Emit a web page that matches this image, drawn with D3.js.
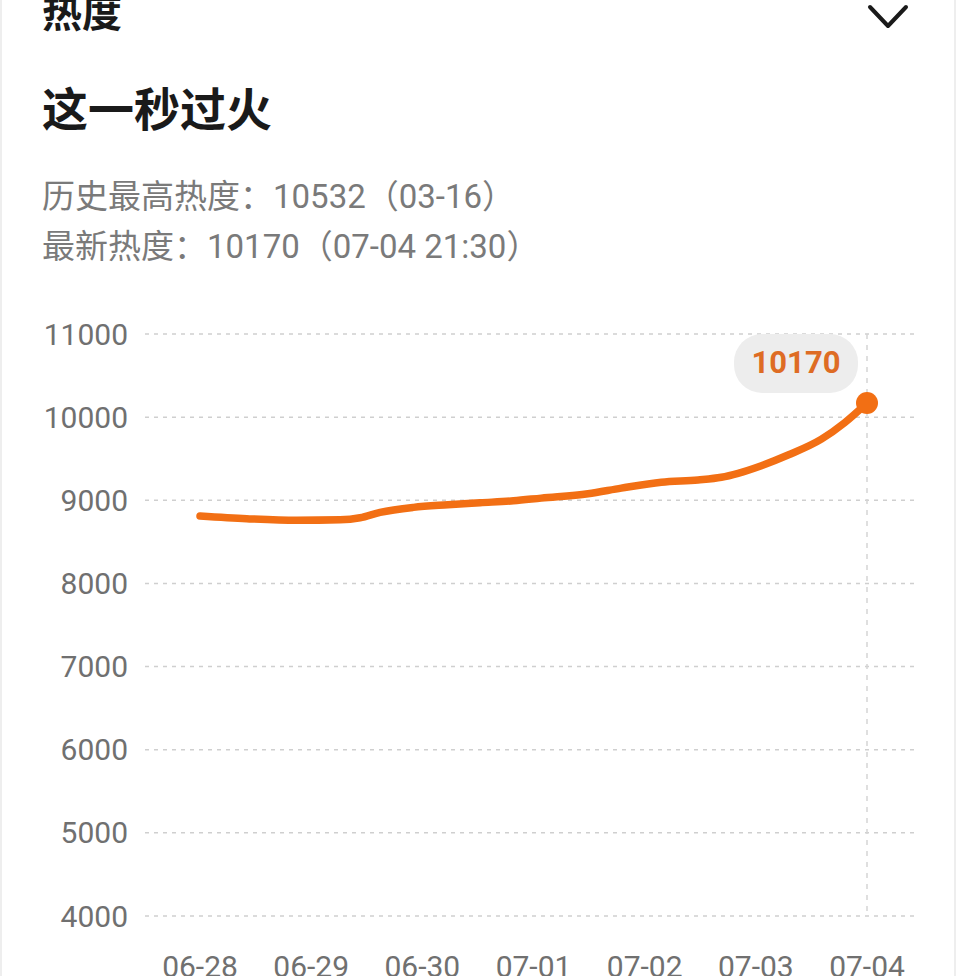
<!DOCTYPE html>
<html>
<head>
<meta charset="utf-8">
<script src="https://cdn.jsdelivr.net/npm/d3@7"></script>
<style>
  body { margin: 0; background: #fff; }
  svg { display: block; }
</style>
</head>
<body>
<script>
// heat curve, t = days since 06-28
const dayLabels = ["06-28", "06-29", "06-30", "07-01", "07-02", "07-03", "07-04"];
const yTicks = [4000, 5000, 6000, 7000, 8000, 9000, 10000, 11000];
const t = [0, 0.42, 0.87, 1.26, 1.44, 1.62, 1.92, 2.23, 2.52, 2.82, 3.07, 3.49, 3.79, 4.15, 4.48, 4.69, 4.84, 5.05, 5.29, 5.59, 5.80, 6.0];
const heat = [8811, 8779, 8759, 8765, 8790, 8855, 8915, 8946, 8970, 8994, 9026, 9078, 9146, 9217, 9245, 9277, 9325, 9416, 9544, 9735, 9934, 10170];

const width = 956, height = 976;
const orange = "#f26f14";
const numFont = "Roboto, 'Noto Sans CJK SC', sans-serif";
const cjkFont = "'Noto Sans CJK SC', sans-serif";

const svg = d3.select("body").append("svg")
    .attr("width", width)
    .attr("height", height);

svg.append("rect").attr("width", width).attr("height", height).attr("fill", "#fff");
// faint card edges
svg.append("line").attr("x1", 1).attr("x2", 1).attr("y1", 0).attr("y2", height)
    .attr("stroke", "#eee").attr("stroke-width", 2);
svg.append("line").attr("x1", width - 1).attr("x2", width - 1).attr("y1", 0).attr("y2", height)
    .attr("stroke", "#eee").attr("stroke-width", 2);

// header
svg.append("text").attr("x", 42).attr("y", 27)
    .attr("font-family", cjkFont).attr("font-size", 40).attr("font-weight", 700)
    .attr("fill", "#1a1a1a").text("热度");
svg.append("path").attr("d", "M870,7 L888,26 L906,7")
    .attr("fill", "none").attr("stroke", "#1a1a1a").attr("stroke-width", 4)
    .attr("stroke-linecap", "round").attr("stroke-linejoin", "round");

svg.append("text").attr("x", 42).attr("y", 126)
    .attr("font-family", cjkFont).attr("font-size", 46).attr("font-weight", 700)
    .attr("fill", "#1a1a1a").text("这一秒过火");

svg.append("text").attr("x", 42).attr("y", 208)
    .attr("font-family", numFont).attr("font-size", 33)
    .attr("fill", "#7a7a7a").text("历史最高热度：10532（03-16）");
svg.append("text").attr("x", 42).attr("y", 258)
    .attr("font-family", numFont).attr("font-size", 33)
    .attr("fill", "#7a7a7a").text("最新热度：10170（07-04 21:30）");

// scales
const x = d3.scaleLinear().domain([0, dayLabels.length - 1]).range([200, 867]);
const y = d3.scaleLinear().domain([4000, 11000]).range([916, 334]);

// grid
const grid = svg.append("g");
grid.selectAll("line").data(yTicks).join("line")
    .attr("x1", 145).attr("x2", 918)
    .attr("y1", d => y(d)).attr("y2", d => y(d))
    .attr("stroke", "#cfcfcf").attr("stroke-width", 1.5)
    .attr("stroke-dasharray", "4,5");

svg.append("g").selectAll("text").data(yTicks).join("text")
    .attr("x", 128).attr("y", d => y(d) + 10.5)
    .attr("text-anchor", "end")
    .attr("font-family", numFont).attr("font-size", 30)
    .attr("fill", "#707070")
    .text(d => d);

svg.append("g").selectAll("text").data(dayLabels).join("text")
    .attr("x", (d, i) => x(i)).attr("y", 977)
    .attr("text-anchor", "middle")
    .attr("font-family", numFont).attr("font-size", 30)
    .attr("fill", "#707070")
    .text(d => d);

// crosshair at last point
const last = t.length - 1;
svg.append("line")
    .attr("x1", x(t[last])).attr("x2", x(t[last]))
    .attr("y1", y(11000)).attr("y2", y(4000))
    .attr("stroke", "#d5d5d5").attr("stroke-width", 1.5)
    .attr("stroke-dasharray", "5,6");

// line
const line = d3.line()
    .x((d, i) => x(t[i]))
    .y(d => y(d))
    .curve(d3.curveMonotoneX);

svg.append("path")
    .datum(heat)
    .attr("fill", "none")
    .attr("stroke", orange)
    .attr("stroke-width", 7.5)
    .attr("stroke-linecap", "round")
    .attr("stroke-linejoin", "round")
    .attr("d", line);

svg.append("circle")
    .attr("cx", x(t[last])).attr("cy", y(heat[last]))
    .attr("r", 11).attr("fill", orange);

// badge
const bx = x(t[last]) - 71;
svg.append("rect")
    .attr("x", bx - 62).attr("y", 334).attr("width", 124).attr("height", 59)
    .attr("rx", 28).attr("fill", "#ededed");
svg.append("text")
    .attr("x", bx).attr("y", 373)
    .attr("text-anchor", "middle")
    .attr("font-family", numFont).attr("font-size", 31).attr("font-weight", 700)
    .attr("fill", "#de6c24")
    .text(heat[last]);
</script>
</body>
</html>
